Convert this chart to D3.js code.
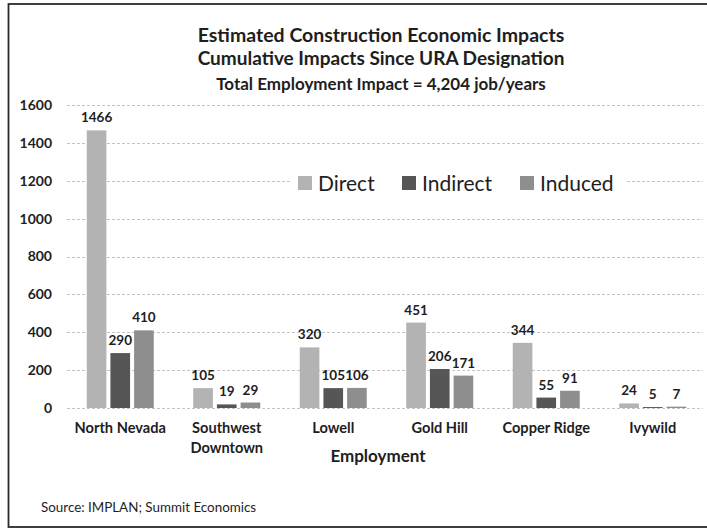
<!DOCTYPE html>
<html>
<head>
<meta charset="utf-8">
<script src="https://cdn.jsdelivr.net/npm/d3@7"></script>
<style>
  html, body { margin: 0; padding: 0; background: #fff; }
  svg { display: block; font-family: Lato, "Open Sans", sans-serif; }
</style>
</head>
<body>
<svg id="chart" width="707" height="529"></svg>
<script>
// Employment impacts by URA area (job/years)
const categories = ["North Nevada", "Southwest Downtown", "Lowell", "Gold Hill", "Copper Ridge", "Ivywild"];
const seriesNames = ["Direct", "Indirect", "Induced"];
const direct   = [1466, 105, 320, 451, 344, 24];
const indirect = [290, 19, 105, 206, 55, 5];
const induced  = [410, 29, 106, 171, 91, 7];
const yTicks = [0, 200, 400, 600, 800, 1000, 1200, 1400, 1600];
const titleLines = [
  "Estimated Construction Economic Impacts",
  "Cumulative Impacts Since URA Designation",
  "Total Employment Impact = 4,204 job/years"
];

const seriesValues = { Direct: direct, Indirect: indirect, Induced: induced };
const colors = { Direct: "#b3b3b3", Indirect: "#565656", Induced: "#8e8e8e" };

const svg = d3.select("#chart");
const W = 707, H = 529;
const plot = { left: 67, right: 706, top: 105, bottom: 408 };

// frame (left, top and bottom edges show; right edge runs off the page)
svg.append("rect")
  .attr("x", 8.5).attr("y", 4)
  .attr("width", W + 10).attr("height", 523)
  .attr("fill", "#fff").attr("stroke", "#2a2a2a").attr("stroke-width", 1.8);

// titles
const titleY = [42, 65, 90];
const titleSize = [19.5, 19, 17];
titleLines.forEach((t, i) => {
  svg.append("text")
    .attr("x", 381).attr("y", titleY[i])
    .attr("text-anchor", "middle")
    .attr("font-weight", "bold")
    .attr("font-size", titleSize[i])
    .attr("fill", "#1e1e1e")
    .text(t);
});

const x0 = d3.scaleBand().domain(categories).range([plot.left, plot.right]).padding(0);
const groupW = 67;
const x1 = d3.scaleBand().domain(seriesNames)
  .range([(x0.bandwidth() - groupW) / 2, (x0.bandwidth() + groupW) / 2])
  .paddingInner(0.17).paddingOuter(0);
const y = d3.scaleLinear().domain([0, 1600]).range([plot.bottom, plot.top]);

// gridlines
svg.append("g")
  .selectAll("line").data(yTicks).join("line")
  .attr("x1", plot.left).attr("x2", plot.right - 3)
  .attr("y1", d => Math.round(y(d)) + 0.5).attr("y2", d => Math.round(y(d)) + 0.5)
  .attr("stroke", "#c4c4c4").attr("stroke-width", 1)
  .attr("stroke-dasharray", "3,2");

// y axis labels
const yAxis = d3.axisLeft(y).tickValues(yTicks).tickSize(0).tickPadding(0).tickFormat(d3.format("d"));
const yg = svg.append("g").attr("transform", `translate(52,0)`).call(yAxis);
yg.select(".domain").remove();
yg.selectAll("text")
  .attr("font-family", "Lato, sans-serif")
  .attr("font-size", 14).attr("font-weight", "bold").attr("fill", "#1e1e1e");

// legend (sits over the gridlines on a white backing)
const legendItems = [
  { name: "Direct", x: 298 },
  { name: "Indirect", x: 402 },
  { name: "Induced", x: 520 }
];
svg.append("rect").attr("x", 292).attr("y", 170).attr("width", 334).attr("height", 26).attr("fill", "#fff");
const lg = svg.append("g").selectAll("g").data(legendItems).join("g")
  .attr("transform", d => `translate(${d.x},183)`);
lg.append("rect").attr("x", 0).attr("y", -7).attr("width", 14).attr("height", 14)
  .attr("fill", d => colors[d.name]);
lg.append("text").attr("x", 20).attr("y", 7.5)
  .attr("font-size", 21).attr("fill", "#1e1e1e")
  .text(d => d.name);

// bars
const groups = svg.append("g").selectAll("g").data(categories).join("g")
  .attr("transform", d => `translate(${x0(d)},0)`);

const barData = (c, i) => seriesNames.map(s => ({ series: s, value: seriesValues[s][i] }));

groups.selectAll("rect").data(barData).join("rect")
  .attr("x", d => x1(d.series))
  .attr("width", x1.bandwidth())
  .attr("y", d => y(d.value))
  .attr("height", d => y(0) - y(d.value))
  .attr("fill", d => colors[d.series]);

// value labels
groups.selectAll("text.val").data(barData).join("text")
  .attr("class", "val")
  .attr("x", d => x1(d.series) + x1.bandwidth() / 2)
  .attr("y", d => y(d.value) - 8)
  .attr("text-anchor", "middle")
  .attr("font-size", 13.5).attr("font-weight", "bold").attr("fill", "#1e1e1e")
  .text(d => d.value);

// category labels
const catLabels = svg.append("g").selectAll("text").data(categories).join("text")
  .attr("x", d => x0(d) + x0.bandwidth() / 2)
  .attr("y", 433)
  .attr("text-anchor", "middle")
  .attr("font-size", 14.6).attr("font-weight", "bold").attr("fill", "#1e1e1e");
catLabels.each(function(d) {
  const words = d === "Southwest Downtown" ? ["Southwest", "Downtown"] : [d];
  d3.select(this).selectAll("tspan").data(words).join("tspan")
    .attr("x", x0(d) + x0.bandwidth() / 2)
    .attr("dy", (w, i) => i === 0 ? 0 : 20)
    .text(w => w);
});

// axis title
svg.append("text")
  .attr("x", 378).attr("y", 462)
  .attr("text-anchor", "middle")
  .attr("font-size", 17).attr("font-weight", "bold").attr("fill", "#1e1e1e")
  .text("Employment");

// source note
svg.append("text")
  .attr("x", 41).attr("y", 512)
  .attr("font-size", 13.4).attr("fill", "#1e1e1e")
  .text("Source: IMPLAN; Summit Economics");
</script>
</body>
</html>
